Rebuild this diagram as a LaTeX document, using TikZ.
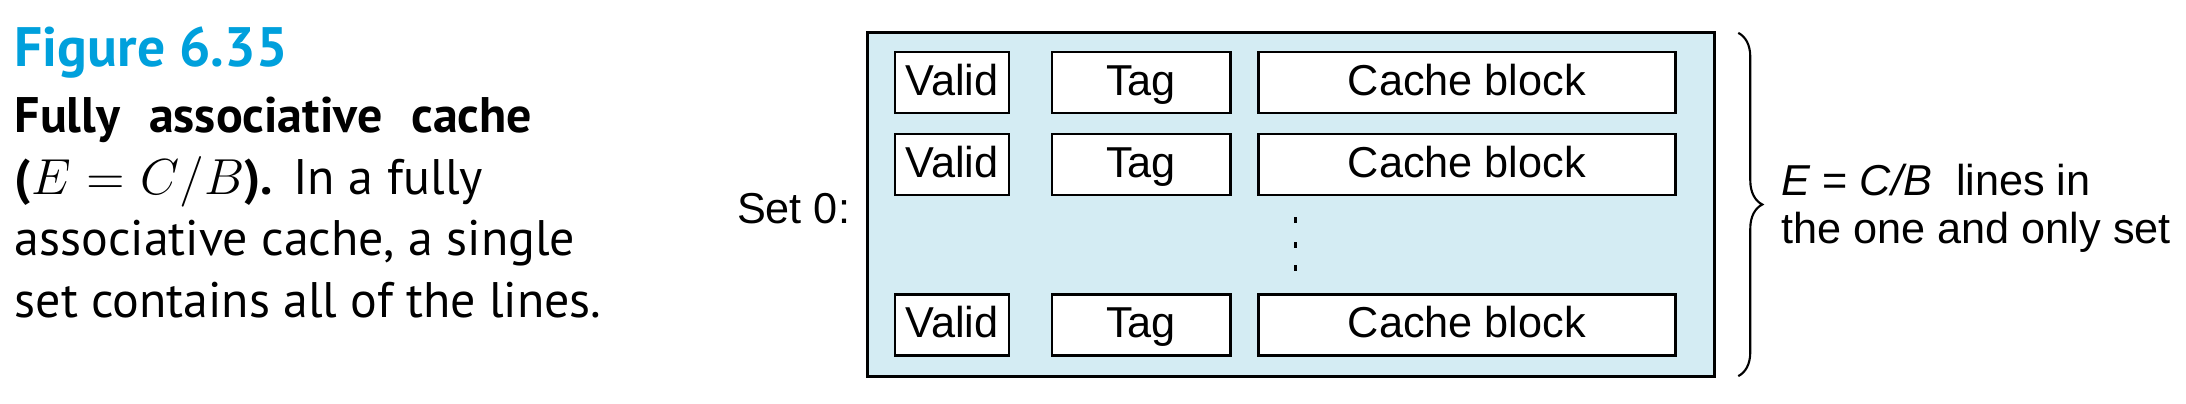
\documentclass[tikz,border=0pt]{standalone}
\usepackage{fontspec}
\setmainfont{Liberation Sans}
\newfontfamily\capfont{PT Sans}
\usetikzlibrary{positioning,decorations.pathreplacing}
\definecolor{figcyan}{RGB}{0,160,220}
\definecolor{setblue}{RGB}{212,236,243}
\tikzset{
 field/.style={draw, fill=white, line width=0.8pt, minimum height=0.61cm, inner sep=0pt, outer sep=0pt, text height=8.8pt, text depth=1.6pt, font=\fontsize{12.3}{14}\selectfont},
 setbox/.style={draw, fill=setblue, line width=0.8pt, inner sep=0pt, outer sep=0pt},
}
\begin{document}
\begin{tikzpicture}[x=0.01cm,y=-0.01cm]
 \useasboundingbox (0,0) rectangle (2186,404);
 \node [anchor=base west, inner sep=0pt, text=figcyan, font=\capfont\bfseries\fontsize{15.8}{18}\selectfont] (fignum) at (14,67) {Figure 6.35};
 \node [anchor=north west, align=left, inner sep=0pt, font=\capfont\fontsize{14.2}{17.6}\selectfont] (figcap) at (14,96) {\makebox[5.17cm][s]{\textbf{Fully associative cache}}\\\makebox[4.68cm][s]{\textbf{($E = C/B$).} In a fully}\\associative cache, a single\\set contains all of the lines.};
 \node [setbox, minimum width=8.46cm, minimum height=3.43cm] (set) at (1291,204.5) {};
 \node [field, minimum width=1.14cm] (valid1) at (952,82.5) {Valid};
 \node [field, minimum width=1.78cm, right=0.43cm of valid1] (tag1) {Tag};
 \node [field, minimum width=4.17cm, right=0.28cm of tag1] (block1) {Cache block};
 \node [field, minimum width=1.14cm, below=0.21cm of valid1] (valid2) {Valid};
 \node [field, minimum width=1.78cm, right=0.43cm of valid2] (tag2) {Tag};
 \node [field, minimum width=4.17cm, right=0.28cm of tag2] (block2) {Cache block};
 \node [field, minimum width=1.14cm, below=0.99cm of valid2] (valid3) {Valid};
 \node [field, minimum width=1.78cm, right=0.43cm of valid3] (tag3) {Tag};
 \node [field, minimum width=4.17cm, right=0.28cm of tag3] (block3) {Cache block};
 \foreach \y in {220,245,268}
  \fill (1293.5,\y-3) rectangle +(3,6);
 \node [left=0.17cm of set, yshift=-0.04cm, inner sep=0pt, font=\fontsize{12.3}{14}\selectfont] (setlabel) {Set 0:};
 \coordinate [right=0.24cm of set.north east] (btop);
 \coordinate [right=0.24cm of set.south east] (bbot);
 \draw [decorate, decoration={brace, amplitude=0.24cm}, line width=0.6pt] (btop) -- (bbot)
  node [midway, right=0.42cm, yshift=-0.04cm, inner sep=0pt, align=left, font=\fontsize{12.3}{13.7}\selectfont] (lineslabel) {\textit{E} = \textit{C/B}\ \ lines in\\the one and only set};
\end{tikzpicture}
\end{document}
